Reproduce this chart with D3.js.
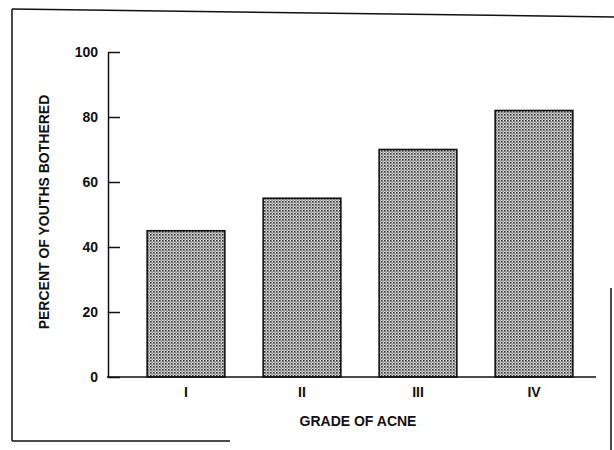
<!DOCTYPE html>
<html lang="en">
  <head>
    <meta charset="UTF-8" />
    <title>Grade of acne</title>
    <style>
      html, body { margin: 0; padding: 0; background: #fff; }
      text { font-family: 'Liberation Sans', Arial, sans-serif; font-weight: bold; fill: #111; }
    </style>
    <script src="https://d3js.org/d3.v7.min.js"></script>
  </head>
  <body>
    <div class="d3Chart"></div>
    <script>
      // data
      const grades = ['I', 'II', 'III', 'IV']
      const percentBothered = [45, 55, 70, 82]
      const yTicks = [0, 20, 40, 60, 80, 100]

      const width = 614
      const height = 450

      const svg = d3
        .select('.d3Chart')
        .append('svg')
        .attr('width', width)
        .attr('height', height)
        .style('display', 'block')

      // halftone dot fill
      const pat = svg
        .append('defs')
        .append('pattern')
        .attr('id', 'dots')
        .attr('patternUnits', 'userSpaceOnUse')
        .attr('width', 3)
        .attr('height', 3)
      pat.append('rect').attr('width', 3).attr('height', 3).attr('fill', '#dcdcdc')
      pat.append('rect').attr('x', 0).attr('y', 0).attr('width', 1.6).attr('height', 1.6).attr('fill', '#333')
      pat.append('rect').attr('x', 1.5).attr('y', 1.5).attr('width', 1.2).attr('height', 1.2).attr('fill', '#5a5a5a')

      // page frame (scanned border)
      const frame = svg.append('g').attr('stroke', '#111').attr('fill', 'none').attr('stroke-width', 1.5)
      frame.append('line').attr('x1', 12).attr('y1', 9).attr('x2', 614).attr('y2', 17)
      frame.append('line').attr('x1', 12).attr('y1', 9).attr('x2', 12).attr('y2', 441)
      frame.append('line').attr('x1', 12).attr('y1', 441).attr('x2', 230).attr('y2', 441)
      frame.append('line').attr('x1', 611).attr('y1', 288).attr('x2', 611).attr('y2', 450)

      const x = d3.scaleBand().domain(grades).range([128, 592]).paddingInner(0.33).paddingOuter(0.165)
      const y = d3.scaleLinear().domain([0, 100]).range([377, 52])

      // bars
      svg
        .append('g')
        .selectAll('rect')
        .data(grades)
        .join('rect')
        .attr('x', (d) => x(d))
        .attr('y', (d, i) => y(percentBothered[i]))
        .attr('width', x.bandwidth())
        .attr('height', (d, i) => y(0) - y(percentBothered[i]))
        .attr('fill', 'url(#dots)')
        .attr('stroke', '#111')
        .attr('stroke-width', 1.6)

      // y axis
      const yAxis = svg
        .append('g')
        .attr('transform', 'translate(108,0)')
        .call(d3.axisLeft(y).tickValues(yTicks).tickSizeInner(-12).tickSizeOuter(0).tickPadding(10))
      yAxis.selectAll('path, line').attr('stroke', '#111').attr('stroke-width', 1.5)
      yAxis.selectAll('text').style('font-size', '14px')
      yAxis.selectAll('.tick text').attr('dy', '0.35em')

      // x axis
      const xAxis = svg
        .append('g')
        .attr('transform', `translate(0,${y(0)})`)
        .call(d3.axisBottom(x).tickSize(0).tickPadding(10))
      xAxis.select('.domain').remove()
      xAxis.selectAll('text').style('font-size', '14px')
      svg
        .append('line')
        .attr('x1', 107)
        .attr('x2', 596)
        .attr('y1', y(0))
        .attr('y2', y(0))
        .attr('stroke', '#111')
        .attr('stroke-width', 1.6)

      // axis titles
      svg
        .append('text')
        .attr('x', 358)
        .attr('y', 426)
        .attr('text-anchor', 'middle')
        .style('font-size', '14px')
        .text('GRADE OF ACNE')

      svg
        .append('text')
        .attr('transform', 'translate(49,212) rotate(-90)')
        .attr('text-anchor', 'middle')
        .style('font-size', '14px')
        .text('PERCENT OF YOUTHS BOTHERED')
    </script>
  </body>
</html>
